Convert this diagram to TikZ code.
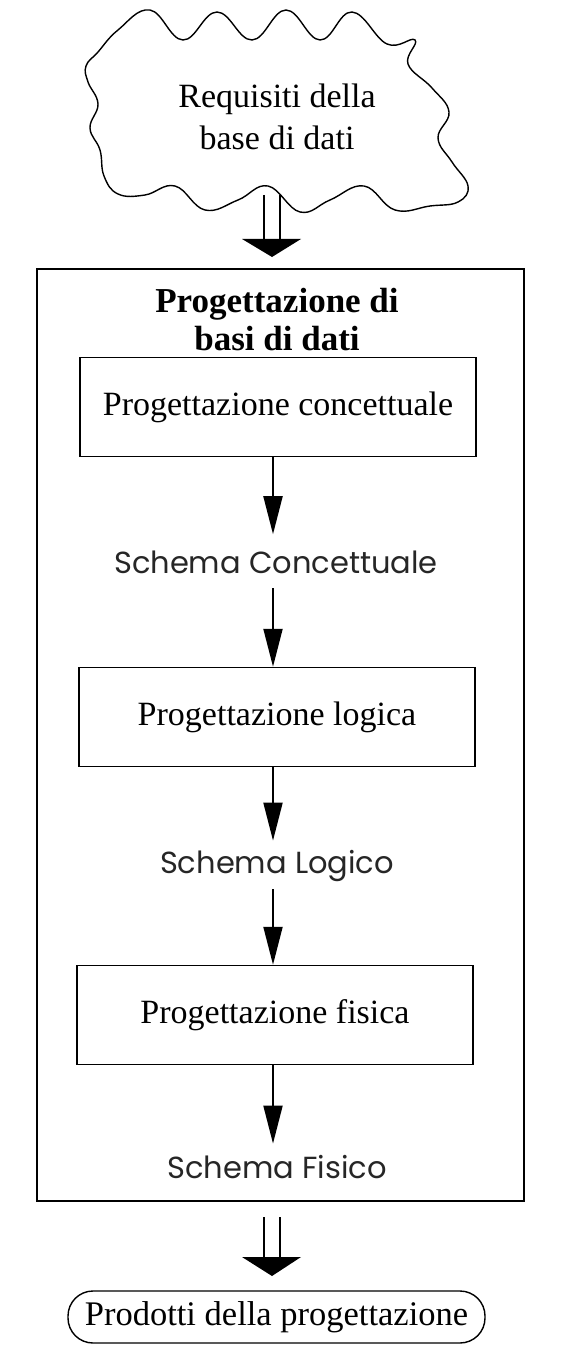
\documentclass[tikz,border=0pt]{standalone}
\usepackage{fontspec}
\setmainfont{Liberation Serif}
\newfontfamily\schemafont{Poppins}
\usetikzlibrary{arrows.meta}
\begin{document}
\begin{tikzpicture}[x=1pt,y=-1pt,
  stepbox/.style={draw, line width=1.5pt, minimum width=396pt, minimum height=99pt, inner sep=0pt, font=\fontsize{34}{40}\selectfont},
  schema/.style={font=\schemafont\fontsize{30.5}{36}\selectfont, text=black!85, inner sep=0pt, anchor=base},
  serif/.style={font=\fontsize{34}{40}\selectfont, inner sep=0pt, anchor=base},
  titletext/.style={font=\bfseries\fontsize{35}{40}\selectfont, inner sep=0pt, anchor=base},
  flow/.style={line width=2pt, -{Triangle[length=38pt,width=19pt]}},
  dline/.style={line width=1.6pt},
  dhead/.style={fill=black, draw=none}
]
\useasboundingbox (0,0) rectangle (566,1348);

% cloud
\draw[line width=1.4pt] plot[smooth cycle, tension=0.7] coordinates {
 (118,30) (150,10) (183,40) (217,12) (252,40) (286,10) (320,40) (352,12) (387,44) (415,40)
 (408,64) (432,88) (449,112) (438,138) (452,162) (468,186) (458,202)
 (430,206) (395,210) (364,186) (330,200) (300,212) (268,186) (238,200) (205,210) (175,186) (145,195) (118,194)
 (104,176) (100,150) (90,128) (98,104) (88,82) (86,66) (98,52)};
\node[serif] (req1) at (277,108) {Requisiti della};
\node[serif] (req2) at (277,150) {base di dati};

% top double arrow
\coordinate (da1s) at (272,195);
\coordinate (da1e) at (272,239);
\draw[dline] ([xshift=-8pt]da1s) -- ([xshift=-8pt]da1e);
\draw[dline] ([xshift=8pt]da1s) -- ([xshift=8pt]da1e);
\fill[dhead] ([xshift=-30pt]da1e) -- ([xshift=29pt]da1e) -- ([yshift=-18pt]da1e) -- cycle;

% outer box
\node[draw, line width=1.5pt, minimum width=487pt, minimum height=932pt, inner sep=0pt] (outer) at (280.5,735) {};
\node[titletext] (t1) at (277,312) {Progettazione di};
\node[titletext] (t2) at (277,350) {basi di dati};

\coordinate (ax) at (273,0);
\node[stepbox] (b1) at (278,407) {Progettazione concettuale};
\node[schema] (s1) at (276,573) {Schema Concettuale};
\node[stepbox] (b2) at (277,717) {Progettazione logica};
\node[schema] (s2) at (277,873) {Schema Logico};
\node[stepbox] (b3) at (275,1015) {Progettazione fisica};
\node[schema] (s3) at (277,1178) {Schema Fisico};

\draw[flow, shorten >=16pt] (b1.south -| ax) -- (s1.north -| ax);
\draw[flow, shorten <=15pt] (s1.south -| ax) -- (b2.north -| ax);
\draw[flow, shorten >=9pt] (b2.south -| ax) -- (s2.north -| ax);
\draw[flow, shorten <=8pt] (s2.south -| ax) -- (b3.north -| ax);
\draw[flow, shorten >=11pt] (b3.south -| ax) -- (s3.north -| ax);

% bottom double arrow
\coordinate (da2s) at (272,1217);
\coordinate (da2e) at (272,1257);
\draw[dline] ([xshift=-8pt]da2s) -- ([xshift=-8pt]da2e);
\draw[dline] ([xshift=8pt]da2s) -- ([xshift=8pt]da2e);
\fill[dhead] ([xshift=-30pt]da2e) -- ([xshift=29pt]da2e) -- ([yshift=-19pt]da2e) -- cycle;

\node[draw, line width=1.4pt, rounded corners=25pt, minimum width=417pt, minimum height=52pt, inner sep=0pt, font=\fontsize{34.5}{40}\selectfont] (prod) at (276.5,1317) {Prodotti della progettazione};
\end{tikzpicture}
\end{document}
